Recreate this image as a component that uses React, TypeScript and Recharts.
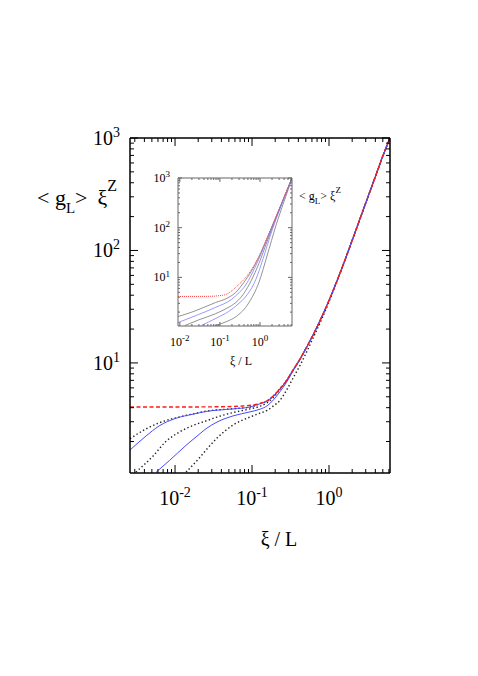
import React from "react";
import { LineChart, Line, XAxis, YAxis } from "recharts";

// ---- main panel: <g_L> xi^z against xi/L ----
const redMain = [
  { x: 0.0026, y: 4.05 }, { x: 0.005, y: 4.05 }, { x: 0.01, y: 4.05 }, { x: 0.02, y: 4.06 },
  { x: 0.04, y: 4.08 }, { x: 0.07, y: 4.13 }, { x: 0.1, y: 4.22 }, { x: 0.13, y: 4.38 },
  { x: 0.157, y: 4.6 }, { x: 0.19, y: 5.1 }, { x: 0.231, y: 5.9 }, { x: 0.28, y: 6.95 },
  { x: 0.34, y: 8.6 }, { x: 0.42, y: 10.8 }, { x: 0.5, y: 13.4 }, { x: 0.62, y: 17.7 },
  { x: 0.8, y: 25.4 }, { x: 1, y: 35.9 }, { x: 1.2, y: 48.7 }, { x: 1.5, y: 72 }, { x: 2, y: 123 },
  { x: 3, y: 264 }, { x: 4, y: 453 }, { x: 5, y: 690 }, { x: 6.2, y: 1000 },
];

const blueMain1 = [
  { x: 0.0026, y: 1.68 }, { x: 0.0042, y: 2.24 }, { x: 0.0062, y: 2.75 }, { x: 0.0103, y: 3.22 },
  { x: 0.0171, y: 3.5 }, { x: 0.0253, y: 3.7 }, { x: 0.0567, y: 3.9 }, { x: 0.094, y: 4.05 },
  { x: 0.13, y: 4.36 }, { x: 0.157, y: 4.58 }, { x: 0.19, y: 5.1 }, { x: 0.231, y: 5.9 },
  { x: 0.28, y: 6.95 }, { x: 0.34, y: 8.6 }, { x: 0.42, y: 10.8 }, { x: 0.5, y: 13.4 },
  { x: 0.62, y: 17.7 }, { x: 0.8, y: 25.4 }, { x: 1, y: 35.9 }, { x: 1.2, y: 48.7 }, { x: 1.5, y: 72 },
  { x: 2, y: 123 }, { x: 3, y: 264 }, { x: 4, y: 453 }, { x: 5, y: 690 }, { x: 6.2, y: 1000 },
];

const blackMain1 = [
  { x: 0.0026, y: 2.12 }, { x: 0.0042, y: 2.59 }, { x: 0.0062, y: 2.93 }, { x: 0.0103, y: 3.25 },
  { x: 0.0171, y: 3.52 }, { x: 0.0253, y: 3.72 }, { x: 0.0567, y: 3.92 }, { x: 0.094, y: 4.05 },
  { x: 0.13, y: 4.36 }, { x: 0.157, y: 4.58 }, { x: 0.19, y: 5.1 }, { x: 0.231, y: 5.9 },
  { x: 0.28, y: 6.95 }, { x: 0.34, y: 8.6 }, { x: 0.42, y: 10.8 }, { x: 0.5, y: 13.4 },
  { x: 0.62, y: 17.7 }, { x: 0.8, y: 25.4 }, { x: 1, y: 35.9 }, { x: 1.2, y: 48.7 }, { x: 1.5, y: 72 },
  { x: 2, y: 123 }, { x: 3, y: 264 }, { x: 4, y: 453 }, { x: 5, y: 690 }, { x: 6.2, y: 1000 },
];

const blackMain2 = [
  { x: 0.0031, y: 1.07 }, { x: 0.0052, y: 1.49 }, { x: 0.0076, y: 2.0 }, { x: 0.0113, y: 2.42 },
  { x: 0.0171, y: 2.78 }, { x: 0.0253, y: 3.05 }, { x: 0.0351, y: 3.3 }, { x: 0.0567, y: 3.62 },
  { x: 0.094, y: 3.9 }, { x: 0.127, y: 4.12 }, { x: 0.157, y: 4.42 }, { x: 0.19, y: 4.95 },
  { x: 0.231, y: 5.8 }, { x: 0.28, y: 6.9 }, { x: 0.34, y: 8.6 }, { x: 0.42, y: 10.8 },
  { x: 0.5, y: 13.4 }, { x: 0.62, y: 17.7 }, { x: 0.8, y: 25.4 }, { x: 1, y: 35.9 }, { x: 1.2, y: 48.7 },
  { x: 1.5, y: 72 }, { x: 2, y: 123 }, { x: 3, y: 264 }, { x: 4, y: 453 }, { x: 5, y: 690 },
  { x: 6.2, y: 1000 },
];

const blueMain2 = [
  { x: 0.0057, y: 1.07 }, { x: 0.0084, y: 1.35 }, { x: 0.0139, y: 1.85 }, { x: 0.0211, y: 2.35 },
  { x: 0.0253, y: 2.6 }, { x: 0.0351, y: 2.98 }, { x: 0.0567, y: 3.38 }, { x: 0.094, y: 3.67 },
  { x: 0.127, y: 3.88 }, { x: 0.157, y: 4.15 }, { x: 0.19, y: 4.7 }, { x: 0.231, y: 5.55 },
  { x: 0.28, y: 6.7 }, { x: 0.34, y: 8.45 }, { x: 0.42, y: 10.7 }, { x: 0.5, y: 13.4 },
  { x: 0.62, y: 17.7 }, { x: 0.8, y: 25.4 }, { x: 1, y: 35.9 }, { x: 1.2, y: 48.7 }, { x: 1.5, y: 72 },
  { x: 2, y: 123 }, { x: 3, y: 264 }, { x: 4, y: 453 }, { x: 5, y: 690 }, { x: 6.2, y: 1000 },
];

const blackMain3 = [
  { x: 0.0139, y: 1.07 }, { x: 0.0211, y: 1.45 }, { x: 0.0253, y: 1.68 }, { x: 0.0351, y: 2.15 },
  { x: 0.0567, y: 2.8 }, { x: 0.094, y: 3.3 }, { x: 0.127, y: 3.58 }, { x: 0.157, y: 3.78 },
  { x: 0.19, y: 4.15 }, { x: 0.231, y: 4.65 }, { x: 0.28, y: 5.7 }, { x: 0.34, y: 7.3 },
  { x: 0.42, y: 9.5 }, { x: 0.5, y: 12.1 }, { x: 0.62, y: 16.6 }, { x: 0.8, y: 24.3 },
  { x: 1, y: 35 }, { x: 1.2, y: 48.3 }, { x: 1.5, y: 72 }, { x: 2, y: 123 }, { x: 3, y: 264 },
  { x: 4, y: 453 }, { x: 5, y: 690 }, { x: 6.2, y: 1000 },
];

// ---- inset ----
const redInset = [
  { x: 0.009, y: 4.13 }, { x: 0.02, y: 4.13 }, { x: 0.05, y: 4.15 }, { x: 0.1, y: 4.3 },
  { x: 0.138, y: 4.5 }, { x: 0.2, y: 5.4 }, { x: 0.247, y: 6.3 }, { x: 0.33, y: 7.8 },
  { x: 0.442, y: 10 }, { x: 0.6, y: 14 }, { x: 0.94, y: 26.5 }, { x: 1.5, y: 62 },
  { x: 2.54, y: 170 }, { x: 4, y: 410 }, { x: 6.3, y: 1000 },
];
const greyInset1 = [
  { x: 0.009, y: 1.63 }, { x: 0.02, y: 2.0 }, { x: 0.04, y: 2.5 }, { x: 0.077, y: 3.1 },
  { x: 0.15, y: 3.8 }, { x: 0.25, y: 5.0 }, { x: 0.4, y: 8.0 }, { x: 0.6, y: 13 },
  { x: 0.94, y: 25.5 }, { x: 1.5, y: 61 }, { x: 2.54, y: 169 }, { x: 4, y: 408 }, { x: 6.3, y: 1000 },
];
const blueInset1 = [
  { x: 0.009, y: 1.23 }, { x: 0.029, y: 1.78 }, { x: 0.077, y: 2.48 }, { x: 0.195, y: 3.6 },
  { x: 0.3, y: 4.9 }, { x: 0.44, y: 7.0 }, { x: 0.6, y: 11 }, { x: 0.94, y: 23.5 },
  { x: 1.5, y: 58 }, { x: 2.54, y: 165 }, { x: 4, y: 405 }, { x: 6.3, y: 1000 },
];
const greyInset2 = [
  { x: 0.0133, y: 1.07 }, { x: 0.03, y: 1.4 }, { x: 0.077, y: 1.85 }, { x: 0.15, y: 2.4 },
  { x: 0.247, y: 3.1 }, { x: 0.4, y: 4.8 }, { x: 0.6, y: 8.5 }, { x: 0.94, y: 19 },
  { x: 1.5, y: 52 }, { x: 2.54, y: 158 }, { x: 4, y: 400 }, { x: 6.3, y: 1000 },
];
const blueInset2 = [
  { x: 0.034, y: 1.07 }, { x: 0.08, y: 1.5 }, { x: 0.164, y: 2.05 }, { x: 0.3, y: 3.0 },
  { x: 0.44, y: 4.1 }, { x: 0.79, y: 9.1 }, { x: 1.2, y: 24 }, { x: 2, y: 88 },
  { x: 3.5, y: 300 }, { x: 6.3, y: 990 },
];
const greyInset3 = [
  { x: 0.077, y: 1.07 }, { x: 0.15, y: 1.3 }, { x: 0.247, y: 1.6 }, { x: 0.53, y: 3.1 },
  { x: 0.94, y: 7.9 }, { x: 1.5, y: 27 }, { x: 2.5, y: 110 }, { x: 4, y: 340 }, { x: 6.3, y: 960 },
];

// ---- ticks ----
const mainXTicks = [
  0.003, 0.004, 0.005, 0.006, 0.007, 0.008, 0.009,
  0.01, 0.02, 0.03, 0.04, 0.05, 0.06, 0.07, 0.08, 0.09,
  0.1, 0.2, 0.3, 0.4, 0.5, 0.6, 0.7, 0.8, 0.9,
  1, 2, 3, 4, 5, 6,
];
const insetXTicks = [
  0.01, 0.02, 0.03, 0.04, 0.05, 0.06, 0.07, 0.08, 0.09,
  0.1, 0.2, 0.3, 0.4, 0.5, 0.6, 0.7, 0.8, 0.9,
  1, 2, 3, 4, 5, 6,
];
const yTicks = [
  2, 3, 4, 5, 6, 7, 8, 9,
  10, 20, 30, 40, 50, 60, 70, 80, 90,
  100, 200, 300, 400, 500, 600, 700, 800, 900,
  1000,
];

const SERIF = "'Liberation Serif', 'Times New Roman', serif";

const isMajor = (v: number) => Math.abs(Math.log10(v) - Math.round(Math.log10(v))) < 1e-6;
const expOf = (v: number) => String(Math.round(Math.log10(v)));

type TickOpts = {
  side: "bottom" | "top" | "left" | "right";
  major: number;
  minor: number;
  color: string;
  label?: boolean;
  fontSize?: number;
  supSize?: number;
  gap?: number;
};

const makeTick = (o: TickOpts) => (props: any) => {
  const { x, y, payload } = props;
  const v = payload.value;
  const big = isMajor(v);
  const len = big ? o.major : o.minor;
  let x2 = x;
  let y2 = y;
  if (o.side === "bottom") y2 = y - len;
  if (o.side === "top") y2 = y + len;
  if (o.side === "left") x2 = x + len;
  if (o.side === "right") x2 = x - len;
  const fs = o.fontSize || 20;
  const ss = o.supSize || 14;
  return (
    <g>
      <line x1={x} y1={y} x2={x2} y2={y2} stroke={o.color} strokeWidth={1} />
      {o.label && big && o.side === "bottom" && (
        <text x={x} y={y + (o.gap || 32)} textAnchor="middle" fontFamily={SERIF} fontSize={fs} fill="#000">
          10<tspan dy={-fs * 0.4} fontSize={ss}>{expOf(v)}</tspan>
        </text>
      )}
      {o.label && big && o.side === "left" && (
        <text x={x - (o.gap || 10)} y={y + fs * 0.33} textAnchor="end" fontFamily={SERIF} fontSize={fs} fill="#000">
          10<tspan dy={-fs * 0.4} fontSize={ss}>{expOf(v)}</tspan>
        </text>
      )}
    </g>
  );
};

const seriesProps = { isAnimationActive: false, dot: false, activeDot: false, type: "monotone" as const, xAxisId: "b", yAxisId: "l", dataKey: "y" };

export default function App() {
  return (
    <div style={{ position: "absolute", left: 0, top: 0, width: 478, height: 676, background: "#fff" }}>
      <div style={{ position: "absolute", left: 0, top: 0 }}>
        <LineChart width={478} height={676} margin={{ top: 137, right: 87, bottom: 202, left: 129 }}>
          <XAxis xAxisId="b" dataKey="x" type="number" scale="log" domain={[0.0026, 6.2]} allowDataOverflow
            ticks={mainXTicks} interval={0} height={1} tickSize={0} tickMargin={0} tickLine={false}
            axisLine={{ stroke: "#000", strokeWidth: 1.5 }}
            tick={makeTick({ side: "bottom", major: 8, minor: 4, color: "#000", label: true, fontSize: 20, supSize: 14, gap: 32 })} />
          <XAxis xAxisId="t" orientation="top" dataKey="x" type="number" scale="log" domain={[0.0026, 6.2]} allowDataOverflow
            ticks={mainXTicks} interval={0} height={1} tickSize={0} tickMargin={0} tickLine={false}
            axisLine={{ stroke: "#000", strokeWidth: 1.5 }}
            tick={makeTick({ side: "top", major: 8, minor: 4, color: "#000" })} />
          <YAxis yAxisId="l" dataKey="y" type="number" scale="log" domain={[1.05, 1000]} allowDataOverflow
            ticks={yTicks} interval={0} width={1} tickSize={0} tickMargin={0} tickLine={false}
            axisLine={{ stroke: "#000", strokeWidth: 1.5 }}
            tick={makeTick({ side: "left", major: 8, minor: 4, color: "#000", label: true, fontSize: 20, supSize: 14, gap: 10 })} />
          <YAxis yAxisId="r" orientation="right" dataKey="y" type="number" scale="log" domain={[1.05, 1000]} allowDataOverflow
            ticks={yTicks} interval={0} width={1} tickSize={0} tickMargin={0} tickLine={false}
            axisLine={{ stroke: "#000", strokeWidth: 1.5 }}
            tick={makeTick({ side: "right", major: 8, minor: 4, color: "#000" })} />
          <Line {...seriesProps} xAxisId="t" yAxisId="r" data={redMain} stroke="none" />
          <Line {...seriesProps} data={blackMain3} stroke="#222" strokeWidth={1.4} strokeDasharray="1.4 2.4" />
          <Line {...seriesProps} data={blackMain2} stroke="#222" strokeWidth={1.4} strokeDasharray="1.4 2.4" />
          <Line {...seriesProps} data={blackMain1} stroke="#222" strokeWidth={1.4} strokeDasharray="1.4 2.4" />
          <Line {...seriesProps} data={blueMain2} stroke="#4a4aff" strokeWidth={1} />
          <Line {...seriesProps} data={blueMain1} stroke="#4a4aff" strokeWidth={1} />
          <Line {...seriesProps} data={redMain} stroke="#ff1a1a" strokeWidth={1.4} strokeDasharray="4 2.5" />
        </LineChart>
      </div>

      <div style={{ position: "absolute", left: 140, top: 160 }}>
        <LineChart width={230} height={210} margin={{ top: 17, right: 77, bottom: 43, left: 37 }}>
          <XAxis xAxisId="b" dataKey="x" type="number" scale="log" domain={[0.009, 6.3]} allowDataOverflow
            ticks={insetXTicks} interval={0} height={1} tickSize={0} tickMargin={0} tickLine={false}
            axisLine={{ stroke: "#666", strokeWidth: 1 }}
            tick={makeTick({ side: "bottom", major: 4, minor: 2, color: "#666", label: true, fontSize: 12, supSize: 9, gap: 20 })} />
          <XAxis xAxisId="t" orientation="top" dataKey="x" type="number" scale="log" domain={[0.009, 6.3]} allowDataOverflow
            ticks={insetXTicks} interval={0} height={1} tickSize={0} tickMargin={0} tickLine={false}
            axisLine={{ stroke: "#666", strokeWidth: 1 }}
            tick={makeTick({ side: "top", major: 4, minor: 2, color: "#666" })} />
          <YAxis yAxisId="l" dataKey="y" type="number" scale="log" domain={[1.05, 1000]} allowDataOverflow
            ticks={yTicks} interval={0} width={1} tickSize={0} tickMargin={0} tickLine={false}
            axisLine={{ stroke: "#666", strokeWidth: 1 }}
            tick={makeTick({ side: "left", major: 4, minor: 2, color: "#666", label: true, fontSize: 12, supSize: 9, gap: 8 })} />
          <YAxis yAxisId="r" orientation="right" dataKey="y" type="number" scale="log" domain={[1.05, 1000]} allowDataOverflow
            ticks={yTicks} interval={0} width={1} tickSize={0} tickMargin={0} tickLine={false}
            axisLine={{ stroke: "#666", strokeWidth: 1 }}
            tick={makeTick({ side: "right", major: 4, minor: 2, color: "#666" })} />
          <Line {...seriesProps} xAxisId="t" yAxisId="r" data={redInset} stroke="none" />
          <Line {...seriesProps} data={greyInset3} stroke="#777" strokeWidth={0.8} />
          <Line {...seriesProps} data={greyInset2} stroke="#777" strokeWidth={0.8} />
          <Line {...seriesProps} data={greyInset1} stroke="#777" strokeWidth={0.8} />
          <Line {...seriesProps} data={blueInset2} stroke="#8080ff" strokeWidth={0.8} />
          <Line {...seriesProps} data={blueInset1} stroke="#8080ff" strokeWidth={0.8} />
          <Line {...seriesProps} data={redInset} stroke="#ff4040" strokeWidth={1} strokeDasharray="1 1" />
        </LineChart>
      </div>

      <svg width={478} height={676} style={{ position: "absolute", left: 0, top: 0, pointerEvents: "none" }}>
        <text x={279} y={546} textAnchor="middle" fontFamily={SERIF} fontSize={20}>ξ / L</text>
        <text x={37} y={205} fontFamily={SERIF} fontSize={22}>
          {"<"} g<tspan dy={8} fontSize={15}>L</tspan><tspan dy={-8}>{">"}</tspan>
          <tspan dx={10}>ξ</tspan><tspan dy={-14} fontSize={16}>Z</tspan>
        </text>
        <text x={241} y={365} textAnchor="middle" fontFamily={SERIF} fontSize={12}>ξ / L</text>
        <text x={299} y={200} fontFamily={SERIF} fontSize={12}>
          {"<"} g<tspan dy={4} fontSize={9}>L</tspan><tspan dy={-4}>{">"}</tspan>
          <tspan dx={3}>ξ</tspan><tspan dy={-7} fontSize={9}>Z</tspan>
        </text>
      </svg>
    </div>
  );
}
